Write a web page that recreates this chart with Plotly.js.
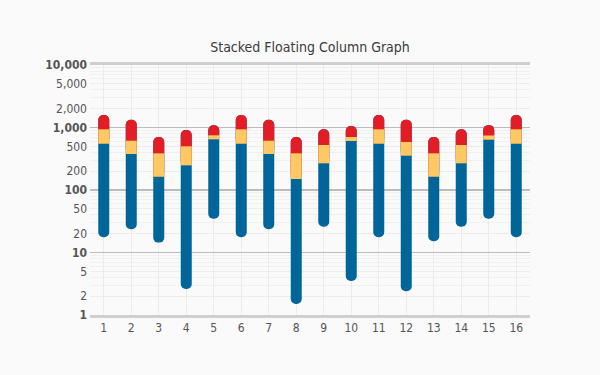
<!DOCTYPE html>
<html>
<head>
<meta charset="utf-8">
<script src="https://cdn.plot.ly/plotly-3.0.1.min.js"></script>
<style>
html,body{margin:0;padding:0;background:#fafafa;}
#chart{width:600px;height:375px;}
</style>
</head>
<body>
<div id="chart"></div>
<script>
// Data
var categories = [1,2,3,4,5,6,7,8,9,10,11,12,13,14,15,16];
var lows       = [17.5,23.5,14.4,2.6,34.7,17.5,23.5,1.5,25.9,3.5,17.5,2.4,15.1,25.9,34.7,17.5];
var blueTops   = [550,377,163,248,647,550,377,150,267,608,550,354,163,267,638,550];
var yellowTops = [936,615,386,500,750,936,615,386,525,705,936,586,386,525,745,936];
var highs      = [1585,1333,705,912,1084,1585,1333,705,936,1057,1585,1333,705,936,1090,1585];
var yTickVals  = [1,2,5,10,20,50,100,200,500,1000,2000,5000,10000];
var yTickText  = ['<b>1</b>','2','5','<b>10</b>','20','50','<b>100</b>','200','500','<b>1,000</b>','2,000','5,000','<b>10,000</b>'];
var decadeVals = [10,100,1000];

var font = 'DejaVu Sans Condensed, DejaVu Sans, sans-serif';
var BW = 0.4;

function diff(a,b){ return a.map(function(v,i){ return v - b[i]; }); }

// blue pill spanning the whole column (rounded bottom is what stays visible)
var blue = {
  type:'bar', x:categories, base:lows, y:diff(highs,lows),
  width:BW, marker:{color:'#006599', cornerradius:'50%', line:{width:0}},
  hoverinfo:'skip'
};
// red pill from blue top to high (rounded top is what stays visible)
var red = {
  type:'bar', x:categories, base:blueTops, y:diff(highs,blueTops),
  width:BW, marker:{color:'#e21d25', cornerradius:'50%', line:{width:0}},
  hoverinfo:'skip'
};
// yellow middle segment
var yellow = {
  type:'bar', x:categories, base:blueTops, y:diff(yellowTops,blueTops),
  width:BW, marker:{color:'#fec962', line:{width:0}},
  hoverinfo:'skip'
};
var dummy = {type:'scatter', x:[categories[0]], y:[10], yaxis:'y2', mode:'markers',
  marker:{opacity:0}, hoverinfo:'skip'};

var layout = {
  width:600, height:375,
  paper_bgcolor:'#fafafa', plot_bgcolor:'#fafafa',
  margin:{l:90, r:70, t:65, b:60},
  barmode:'overlay',
  showlegend:false,
  title:{text:'Stacked Floating Column Graph', font:{family:font, size:14, color:'#3a3a3a'},
         x:0.5167, xanchor:'center', y:0.875, yanchor:'middle'},
  xaxis:{range:[0.5,16.5], tickvals:categories, ticktext:categories.map(String),
         showgrid:true, gridcolor:'#ebebeb', gridwidth:1, zeroline:false,
         showline:true, linecolor:'#cfcfcf', linewidth:3, mirror:true,
         ticks:'', tickfont:{family:font, size:12, color:'#555'}, fixedrange:true},
  yaxis:{type:'log', range:[0,4], tickvals:yTickVals, ticktext:yTickText,
         showgrid:true, gridcolor:'#ececec', gridwidth:1,
         minor:{dtick:'D1', showgrid:true, gridcolor:'#f0f0f0', gridwidth:1},
         showline:false, zeroline:false, ticks:'', ticklabelstandoff:2,
         tickfont:{family:font, size:12, color:'#555'}, fixedrange:true},
  yaxis2:{type:'log', range:[0,4], overlaying:'y', tickvals:decadeVals,
          showticklabels:false, showgrid:true, gridcolor:'#bcbcbc', gridwidth:1.5,
          zeroline:false, showline:false, ticks:'', fixedrange:true}
};

Plotly.newPlot('chart', [dummy, blue, red, yellow], layout, {displayModeBar:false, staticPlot:true});
</script>
</body>
</html>
